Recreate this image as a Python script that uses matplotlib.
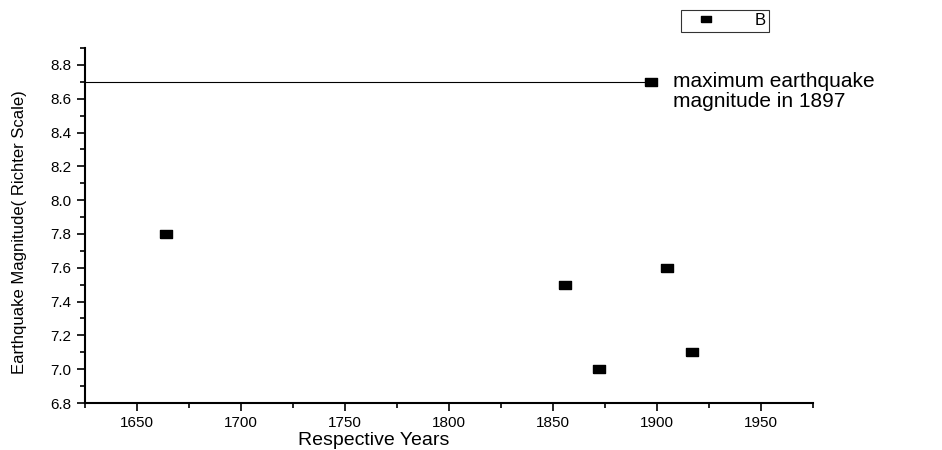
import matplotlib
matplotlib.use("Agg")
import matplotlib.pyplot as plt
from matplotlib.ticker import MultipleLocator

plt.rcParams['font.family'] = ['Liberation Sans', 'DejaVu Sans']

# Data
years = [1664, 1856, 1872, 1897, 1905, 1917]
magnitudes = [7.8, 7.5, 7.0, 8.7, 7.6, 7.1]
series_name = "B"
max_year = 1897
max_mag = 8.7
annotation = "maximum earthquake\nmagnitude in 1897"
x_label = "Respective Years"
y_label = "Earthquake Magnitude( Richter Scale)"

fig = plt.figure(figsize=(9.42, 4.5), dpi=100)
ax = fig.add_axes([0.090, 0.1044, 0.773, 0.789])

rect = [(-1, -0.6), (1, -0.6), (1, 0.6), (-1, 0.6), (-1, -0.6)]
ax.plot(years, magnitudes, linestyle='none', marker=rect, markersize=8.8,
        color='black', label=series_name)

ax.set_xlim(1625, 1975)
ax.set_ylim(6.8, 8.9)
ax.plot([1625, max_year], [max_mag, max_mag], color='black', linewidth=0.8)

ax.xaxis.set_major_locator(MultipleLocator(50))
ax.xaxis.set_minor_locator(MultipleLocator(25))
ax.yaxis.set_major_locator(MultipleLocator(0.2))
ax.yaxis.set_minor_locator(MultipleLocator(0.1))
ax.yaxis.set_major_formatter(plt.FormatStrFormatter('%.1f'))

for s in ['top', 'right']:
    ax.spines[s].set_visible(False)
for s in ['left', 'bottom']:
    ax.spines[s].set_linewidth(1.5)

ax.tick_params(which='major', direction='out', length=6, width=1.2, labelsize=11)
ax.tick_params(which='minor', direction='out', length=3.5, width=1.2)

ax.set_xlabel(x_label, fontsize=14)
ax.xaxis.set_label_coords(0.397, -0.081)
ax.set_ylabel(y_label, fontsize=12)
ax.yaxis.set_label_coords(-0.08, 0.482)

ax.annotate(annotation, xy=(1907.5, max_mag), xycoords='data',
            fontsize=15, va='center', ha='left', linespacing=1.05,
            xytext=(1907.5, 8.643), annotation_clip=False)

leg = fig.legend(loc='upper left', bbox_to_anchor=(0.723, 0.978),
                 frameon=True, fancybox=False, edgecolor='black',
                 fontsize=12, handlelength=2.6, borderpad=0.2,
                 handletextpad=1.6, borderaxespad=0, markerscale=0.8)
leg.get_frame().set_linewidth(0.8)

fig.savefig("out.png", dpi=100)
